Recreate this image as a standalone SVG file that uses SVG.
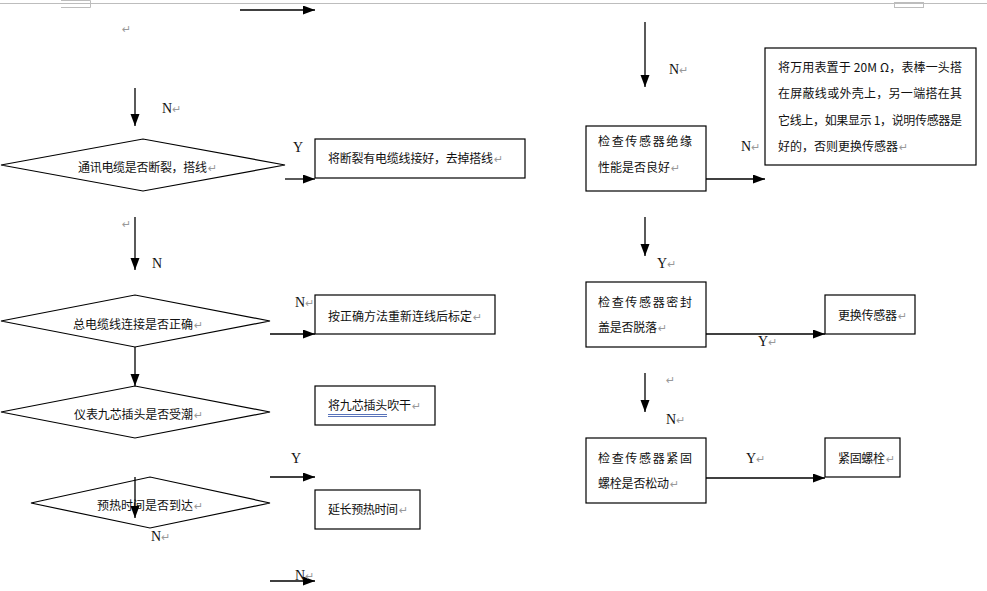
<svg xmlns="http://www.w3.org/2000/svg" width="987" height="591" viewBox="0 0 987 591">
<style>
.sh{fill:#fff;stroke:#000;stroke-width:1.2}
.t{font-family:"Noto Sans CJK SC","Noto Sans CJK JP",sans-serif;font-size:12px;fill:#111}
.l{font-family:"Liberation Serif",serif;font-size:14px;fill:#111}
.rm{font-family:"DejaVu Sans",sans-serif;font-size:11px;fill:#999}
.c{stroke:#000;stroke-width:1.3;fill:none;marker-end:url(#ah)}
.pg{stroke:#bdbdbd;stroke-width:1;fill:none}
</style>
<defs>
<marker id="ah" markerUnits="userSpaceOnUse" markerWidth="12" markerHeight="10" refX="12" refY="4.5" orient="auto">
<path d="M0,0 L12,4.5 L0,9 z" fill="#000"/>
</marker>
</defs>
<rect width="987" height="591" fill="#fff"/>
<g id="page">
<line class="pg" x1="0" y1="3.5" x2="987" y2="3.5"/>
<polyline class="pg" points="61,0.5 90.5,0.5 90.5,7.5 61,7.5"/>
<rect class="pg" x="894.5" y="2.5" width="29" height="5"/>
<text class="rm" x="122" y="33">↵</text>
<text class="rm" x="122" y="228">↵</text>
<text class="rm" x="666" y="384">↵</text>
</g>
<g id="connectors">
<line class="c" x1="240" y1="10" x2="315" y2="10"/>
<line class="c" x1="135" y1="88" x2="135" y2="126"/>
<line class="c" x1="285" y1="179" x2="315" y2="179"/>
<line class="c" x1="135" y1="217" x2="135" y2="270"/>
<line class="c" x1="270" y1="334" x2="315" y2="334"/>
<line class="c" x1="135" y1="347" x2="135" y2="386"/>
<line class="c" x1="270" y1="477" x2="315" y2="477"/>
<line class="c" x1="270" y1="581" x2="315" y2="581"/>
<line class="c" x1="645" y1="22" x2="645" y2="87"/>
<line class="c" x1="706" y1="179" x2="765" y2="179"/>
<line class="c" x1="645" y1="217" x2="645" y2="256"/>
<line class="c" x1="706" y1="334" x2="825" y2="334"/>
<line class="c" x1="645" y1="373" x2="645" y2="412"/>
<line class="c" x1="706" y1="478" x2="825" y2="478"/>
<text class="l" x="162" y="113">N<tspan class="rm">↵</tspan></text>
<text class="l" x="293" y="152">Y</text>
<text class="l" x="152" y="268">N</text>
<text class="l" x="295" y="307">N<tspan class="rm">↵</tspan></text>
<text class="l" x="291" y="463">Y</text>
<text class="l" x="151" y="541">N<tspan class="rm">↵</tspan></text>
<text class="l" x="295" y="580">N<tspan class="rm">↵</tspan></text>
<text class="l" x="669" y="74">N<tspan class="rm">↵</tspan></text>
<text class="l" x="741" y="151">N<tspan class="rm">↵</tspan></text>
<text class="l" x="657" y="268">Y<tspan class="rm">↵</tspan></text>
<text class="l" x="758" y="346">Y<tspan class="rm">↵</tspan></text>
<text class="l" x="666" y="424">N<tspan class="rm">↵</tspan></text>
<text class="l" x="746" y="463">Y<tspan class="rm">↵</tspan></text>
</g>
<g id="d1">
<polygon class="sh" points="1,165 143,139 285,165 143,191"/>
<text class="t" x="78" y="172" textLength="129">通讯电缆是否断裂，搭线</text>
<text class="rm" x="208" y="172">↵</text>
</g>
<g id="b1">
<rect class="sh" x="315" y="139" width="210" height="39"/>
<text class="t" x="328" y="163" textLength="165">将断裂有电缆线接好，去掉搭线</text>
<text class="rm" x="494" y="163">↵</text>
</g>
<g id="d2">
<polygon class="sh" points="1,321 135,295 270,321 135,347"/>
<text class="t" x="73" y="328.5" textLength="120">总电缆线连接是否正确</text>
<text class="rm" x="194" y="328.5">↵</text>
</g>
<g id="b2">
<rect class="sh" x="315" y="295" width="180" height="39"/>
<text class="t" x="328" y="320.5" textLength="144">按正确方法重新连线后标定</text>
<text class="rm" x="473" y="320.5">↵</text>
</g>
<g id="d3">
<polygon class="sh" points="1,412 135,386 270,412 135,438"/>
<text class="t" x="74" y="418.5" textLength="119">仪表九芯插头是否受潮</text>
<text class="rm" x="194" y="418.5">↵</text>
</g>
<g id="b3">
<rect class="sh" x="315" y="386" width="120" height="39"/>
<text class="t" x="328" y="409.5" textLength="83">将九芯插头吹干</text>
<text class="rm" x="412" y="409.5">↵</text>
<line x1="328" y1="414.5" x2="387" y2="414.5" stroke="#2f4fa8" stroke-width="0.8"/>
<line x1="328" y1="416.5" x2="387" y2="416.5" stroke="#2f4fa8" stroke-width="0.8"/>
</g>
<g id="d4">
<polygon class="sh" points="31,503 150,477 270,503 150,528"/>
<text class="t" x="97" y="510" textLength="96">预热时间是否到达</text>
<text class="rm" x="194" y="510">↵</text>
</g>
<line class="c" x1="135" y1="477" x2="135" y2="518"/>
<g id="b4">
<rect class="sh" x="315" y="490" width="105" height="39"/>
<text class="t" x="328" y="513.5" textLength="70">延长预热时间</text>
<text class="rm" x="399" y="513.5">↵</text>
</g>
<g id="b5">
<rect class="sh" x="586" y="126" width="120" height="65"/>
<text class="t" x="598" y="145.5" textLength="94" lengthAdjust="spacing">检查传感器绝缘</text>
<text class="t" x="598" y="171.5" textLength="72">性能是否良好</text>
<text class="rm" x="671" y="171.5">↵</text>
</g>
<g id="b6">
<rect class="sh" x="765" y="48" width="211" height="117"/>
<text class="t" x="778" y="71.5" textLength="184" lengthAdjust="spacing">将万用表置于 20M Ω，表棒一头搭</text>
<text class="t" x="778" y="98" textLength="184" lengthAdjust="spacing">在屏蔽线或外壳上，另一端搭在其</text>
<text class="t" x="778" y="124.5" textLength="184" lengthAdjust="spacing">它线上，如果显示 1，说明传感器是</text>
<text class="t" x="778" y="151" textLength="120">好的，否则更换传感器</text>
<text class="rm" x="899" y="151">↵</text>
</g>
<g id="b7">
<rect class="sh" x="586" y="282" width="120" height="65"/>
<text class="t" x="598" y="306.5" textLength="94" lengthAdjust="spacing">检查传感器密封</text>
<text class="t" x="598" y="331.5" textLength="59">盖是否脱落</text>
<text class="rm" x="658" y="331.5">↵</text>
</g>
<g id="b8">
<rect class="sh" x="825" y="295" width="90" height="39"/>
<text class="t" x="838" y="319.5" textLength="59">更换传感器</text>
<text class="rm" x="898" y="319.5">↵</text>
</g>
<g id="b9">
<rect class="sh" x="586" y="438" width="120" height="65"/>
<text class="t" x="598" y="462.5" textLength="94" lengthAdjust="spacing">检查传感器紧固</text>
<text class="t" x="598" y="487.5" textLength="71">螺栓是否松动</text>
<text class="rm" x="670" y="487.5">↵</text>
</g>
<g id="b10">
<rect class="sh" x="825" y="438" width="75" height="39"/>
<text class="t" x="838" y="462.5" textLength="47">紧固螺栓</text>
<text class="rm" x="886" y="462.5">↵</text>
</g>
</svg>
